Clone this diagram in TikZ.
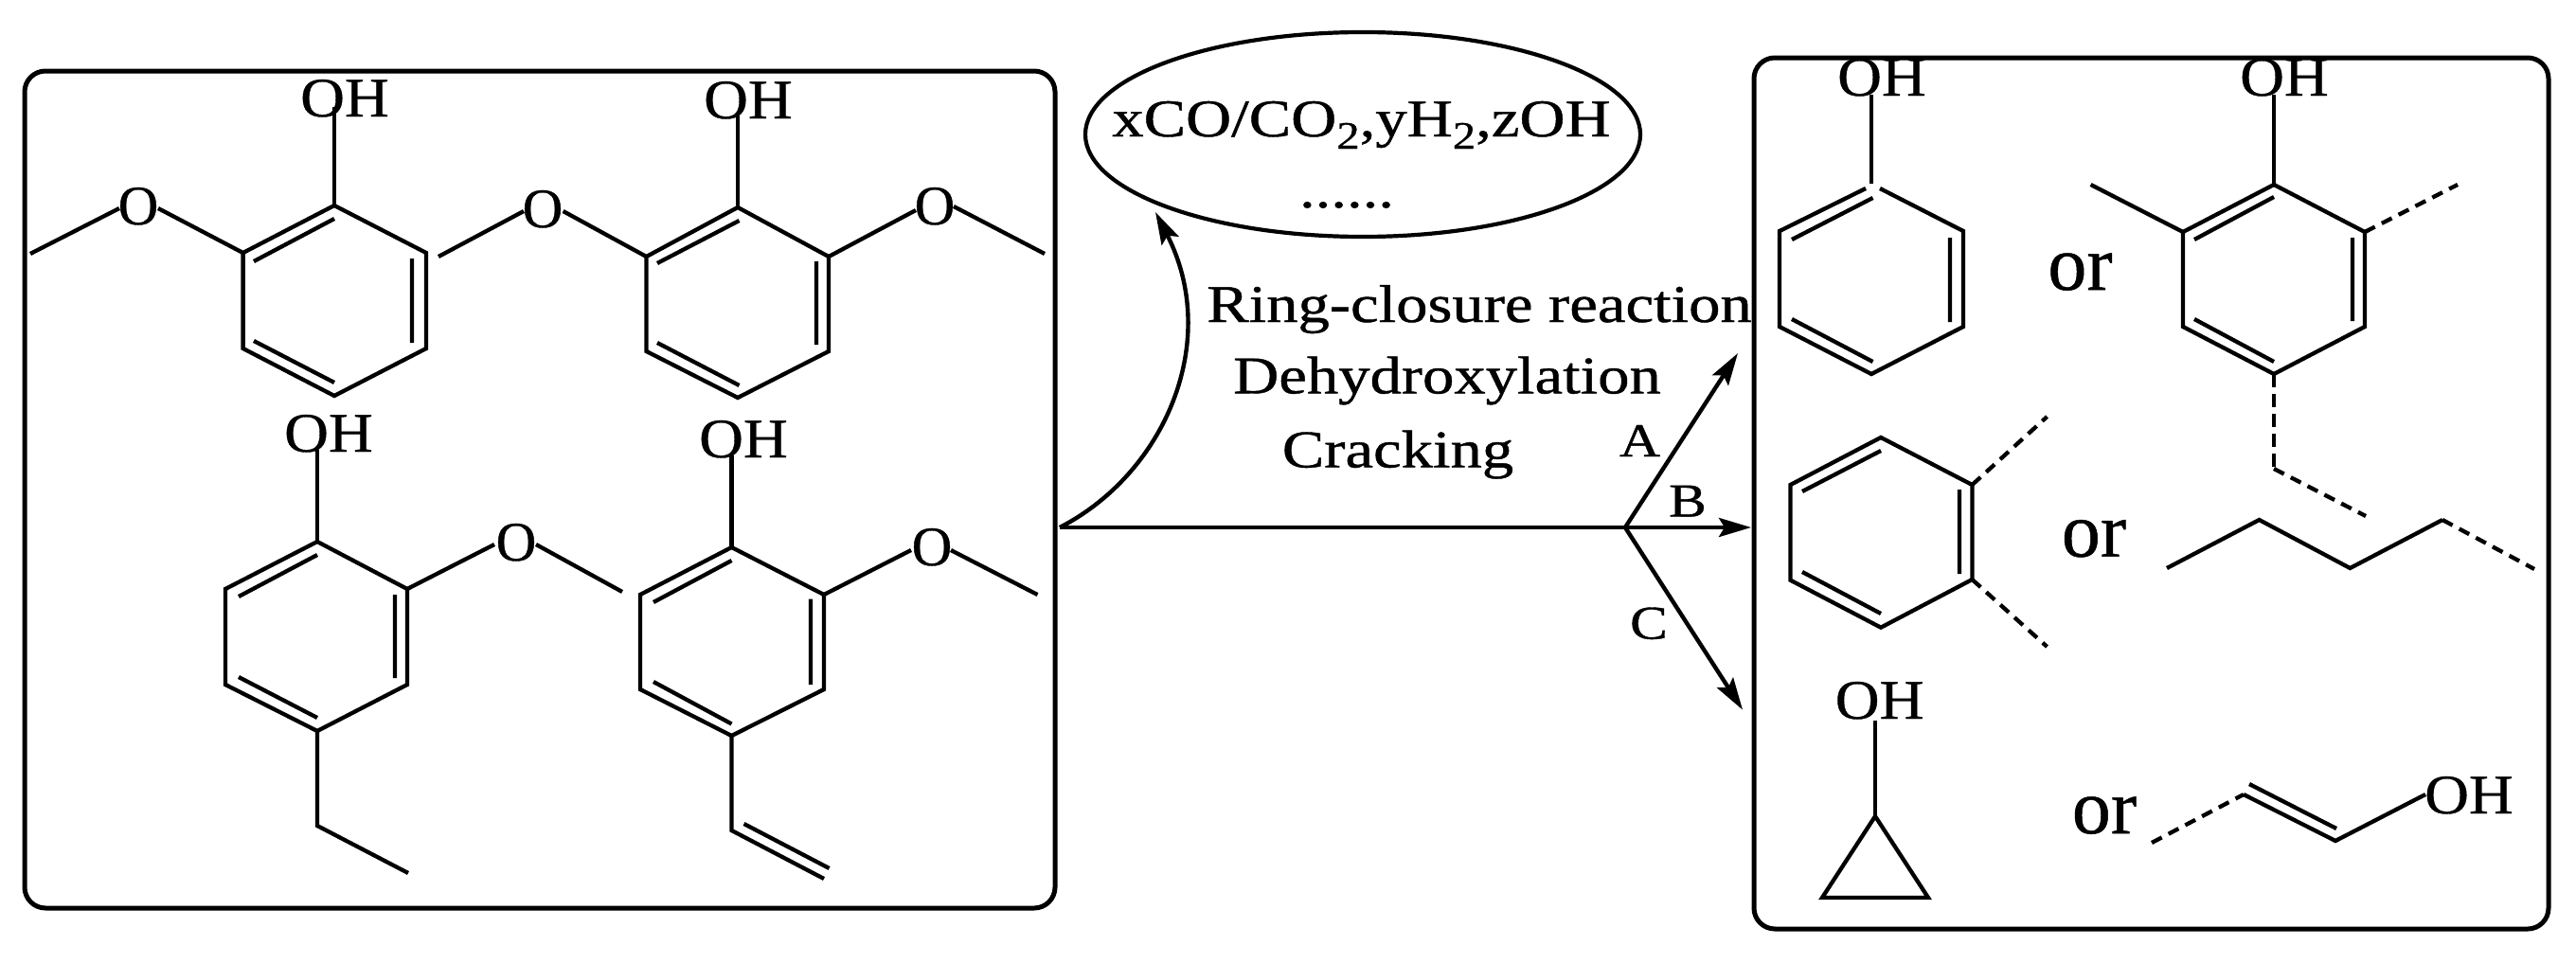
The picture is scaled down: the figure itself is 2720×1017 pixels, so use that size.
\documentclass[tikz,border=0pt]{standalone}
\usepackage{fontspec}
\usetikzlibrary{arrows.meta,shapes.geometric}
\setmainfont[FakeBold=0.6]{Liberation Serif}
\newfontfamily\widefont[FakeStretch=1.19,FakeBold=0.8]{Liberation Serif}
\newfontfamily\ohfont[FakeStretch=1.1,FakeBold=0.6]{Liberation Serif}
\newcommand{\subtwo}{\raisebox{-13pt}{\fontsize{41}{43}\selectfont 2}}
\tikzset{
  bond/.style={line width=4.3pt,line join=miter,black},
  dbond/.style={bond,dash pattern=on 12pt off 8pt},
  vdbond/.style={bond,dash pattern=on 14pt off 7pt},
  frame/.style={line width=5pt,rounded corners=22pt,black},
  arrowline/.style={line width=4.4pt,black,-{Stealth[length=34pt,width=20pt,inset=6pt]}},
  atomO/.style={inner sep=0pt,anchor=base,font=\fontsize{59}{60}\selectfont},
  atomOH/.style={inner sep=0pt,anchor=base,font=\ohfont\fontsize{59}{60}\selectfont},
  orlabel/.style={inner sep=0pt,anchor=base,font=\fontsize{82}{84}\selectfont},
  txt/.style={inner sep=0pt,anchor=base,font=\widefont\fontsize{56}{60}\selectfont},
  letter/.style={inner sep=0pt,anchor=base,font=\widefont\fontsize{50}{54}\selectfont}
}
\begin{document}
\begin{tikzpicture}[x=1pt,y=-1pt]
\useasboundingbox (0,0) rectangle (2720,1017);
% frames
\draw[frame] (26,75) rectangle (1114,959);
\draw[frame] (1852,61) rectangle (2691,981);
% ring 1
\draw[bond] (353,217)--(450,267)--(450,368)--(353,418)--(256.6,368)--(256.6,267)--cycle;
\draw[bond] (268,276)--(353,231) (435,273)--(435,362) (268,360)--(353,404);
\draw[bond] (353,217)--(353,113);
\node[atomOH] (oh1) at (364,123) {OH};
\node[atomO] (o1) at (146,237) {O};
\draw[bond] (256.6,267)--(167,220) (126,220)--(32,268);
\node[atomO] (o2) at (573,240) {O};
\draw[bond] (463,271)--(553,223) (594.6,223)--(682.5,271);
% ring 2
\draw[bond] (779,219)--(875,271)--(875,371)--(779,420)--(682.5,371)--(682.5,271)--cycle;
\draw[bond] (694,278)--(780.5,233) (862,276)--(862,364) (694,362)--(780.5,407);
\draw[bond] (779,219)--(779,122);
\node[atomOH] (oh2) at (790,125) {OH};
\node[atomO] (o3) at (987,237) {O};
\draw[bond] (875,271)--(967,222) (1007,218)--(1103,268);
% ring 3
\draw[bond] (335,572)--(430,622)--(430,723)--(335,772)--(238,723)--(238,622)--cycle;
\draw[bond] (252,630)--(335,586) (417,628)--(417,716) (252,715)--(335,758);
\draw[bond] (335,572)--(335,475);
\node[atomOH] (oh3) at (347,477) {OH};
\node[atomO] (o4) at (545,592) {O};
\draw[bond] (430,622)--(522,575) (566,575)--(657,625);
\draw[bond] (335,772)--(335,872)--(431,922);
% ring 4
\draw[bond] (772.5,578)--(870,628)--(870,728)--(772.5,777)--(676,728)--(676,628)--cycle;
\draw[bond] (690,636)--(772.5,592) (856,632.5)--(856,723) (690,720)--(772.5,764.5);
\draw[bond] (772.5,578)--(772.5,481);
\node[atomOH] (oh4) at (785,483) {OH};
\node[atomO] (o5) at (984,597) {O};
\draw[bond] (870,628)--(962,581) (1004,581)--(1095.5,628);
\draw[bond] (772.5,777)--(772.5,877)--(870,928) (785.5,870)--(875.6,917);
% ellipse and its text
\node[draw,ellipse,line width=4.2pt,minimum width=586pt,minimum height=216pt,inner sep=0pt] (gas) at (1439,142) {};
\node[txt] (gastext) at (1437.5,144) {xCO/CO\subtwo,yH\subtwo,zOH};
\node[txt] (gasdots) at (1422,219) {......};
% process labels
\node[txt] (t1) at (1562,340) {Ring-closure reaction};
\node[txt] (t2) at (1528,415.4) {Dehydroxylation};
\node[txt] (t3) at (1476,493.5) {Cracking};
\node[letter] (la) at (1731.5,482) {A};
\node[letter] (lb) at (1782,545.5) {B};
\node[letter] (lc) at (1741,674.6) {C};
% arrows
\coordinate (src) at (1119,557);
\coordinate (fork) at (1716,557);
\coordinate (endA) at (1835,373);
\coordinate (endB) at (1849,557);
\coordinate (endC) at (1840,749.6);
\coordinate (endgas) at (1220,224);
\draw[bond] (src)--(fork);
\draw[arrowline] (fork)--(endA);
\draw[arrowline] (fork)--(endB);
\draw[arrowline] (fork)--(endC);
\draw[arrowline] (src) .. controls (1230,500) and (1290,360) .. (endgas);
% phenol
\draw[bond] (1970,199)--(1879,244)--(1879,345)--(1976,395)--(2073,345)--(2073,244)--(1985,199);
\draw[bond] (1892,253)--(1977.5,209) (2059,251)--(2059,340) (1892,337)--(1977.5,382);
\draw[bond] (1976,194)--(1976,100);
\node[atomOH] (oh5) at (1987,101) {OH};
% substituted phenol
\draw[bond] (2401,195)--(2497,245)--(2497,345)--(2401,395)--(2305,345)--(2305,245)--cycle;
\draw[bond] (2317,253)--(2401,208) (2484,251)--(2484,339) (2317,337)--(2401,382);
\draw[bond] (2401,195)--(2401,100);
\node[atomOH] (oh6) at (2412,101) {OH};
\draw[bond] (2305,245)--(2207.6,195);
\draw[dbond] (2497,245)--(2595,195);
\draw[vdbond] (2401,395)--(2401,495);
\draw[dbond] (2401,495)--(2498,545);
\node[orlabel] (or1) at (2196.5,306) {or};
% benzene
\draw[bond] (1986,462)--(2082.4,512)--(2082.4,612)--(1986,662.7)--(1890.5,612.7)--(1890.5,512)--cycle;
\draw[bond] (1903,519)--(1986,476) (2069,517)--(2069,606) (1903,604)--(1986,648);
\draw[dbond] (2082.4,512)--(2161.5,440);
\draw[dbond] (2082.4,612)--(2161.5,683);
\node[orlabel] (or2) at (2211,587.7) {or};
% chain
\draw[bond] (2288,600)--(2385.5,549)--(2481.4,600)--(2579,549);
\draw[dbond] (2579,549)--(2676,601);
% cyclopropanol
\node[atomOH] (oh7) at (1984.6,759) {OH};
\draw[bond] (1980,761)--(1980,862);
\draw[bond] (1980,862)--(2036,948)--(1924,948)--cycle;
\node[orlabel] (or3) at (2222,880) {or};
% enol
\draw[dbond] (2272,890)--(2369,839);
\draw[bond] (2369,839)--(2466,888)--(2561,839);
\draw[bond] (2375,828)--(2467,875);
\node[atomOH] (oh8) at (2607,859) {OH};
\end{tikzpicture}
\end{document}
